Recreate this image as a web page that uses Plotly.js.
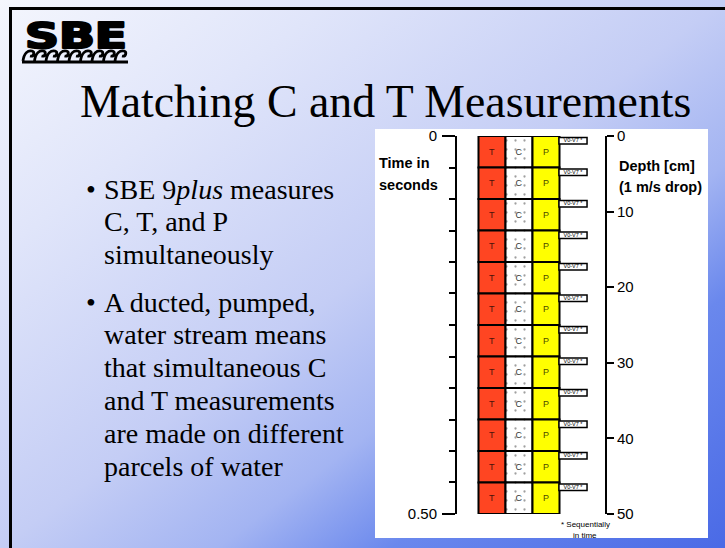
<!DOCTYPE html>
<html><head><meta charset="utf-8">
<script src="https://cdn.plot.ly/plotly-3.0.1.min.js"></script>
<style>
html,body{margin:0;padding:0;}
body{width:725px;height:548px;overflow:hidden;background:linear-gradient(to bottom right,#f4f6fd 0%,#e0e5fa 23%,#c4cdf5 50%,#a3b4f2 65%,#6a88ed 77%,#4a6ae6 100%);}
#chart{width:725px;height:548px;}
</style></head><body><div id="chart"></div>
<script>
// ---- data ----
const columns = ['T', 'C', 'P'];
const voltageCategory = 'V0-V7';
const voltageLabel = 'V0-V7 *';
const sampleStarts = [0, 0.0417, 0.0833, 0.125, 0.1667, 0.2083, 0.25, 0.2917, 0.3333, 0.375, 0.4167, 0.4583];
const sampleDurations = [0.0417, 0.0417, 0.0417, 0.0417, 0.0417, 0.0417, 0.0417, 0.0417, 0.0417, 0.0417, 0.0417, 0.0417];
const timeTickVals = [0, 0.25, 0.5];
const timeTickText = ['0', '', '0.50'];
const timeMinorTicks = [0, 0.0417, 0.0833, 0.125, 0.1667, 0.2083, 0.25, 0.2917, 0.3333, 0.375, 0.4167, 0.4583, 0.5];
const depthTickVals = [0, 10, 20, 30, 40, 50];
const slideTitle = 'Matching C and T Measurements';
const bullets = [
  ['SBE 9<i>plus</i> measures', 'C, T, and P', 'simultaneously'],
  ['A ducted, pumped,', 'water stream means', 'that simultaneous C', 'and T measurements', 'are made on different', 'parcels of water']
];

// ---- styles ----
const colFill = {T: '#ff4522', C: '#ffffff', P: '#ffff00'};
const colText = {T: '#4a120a', C: '#333333', P: '#4a4a00'};
const SANS = 'Liberation Sans, Arial, Helvetica, sans-serif';
const SERIF = 'Liberation Serif, Times New Roman, serif';

const L = 457, R = 605, TOP = 136, BOT = 514;
const px = x => (x - L) / (R - L);
const py = y => (BOT - y) / (BOT - TOP);

const traces = [];
columns.forEach(c => {
  const tr = {
    type: 'bar', x: sampleStarts.map(() => c), y: sampleDurations, base: sampleStarts,
    width: 1, hoverinfo: 'skip', showlegend: false,
    marker: {color: colFill[c], line: {color: '#000', width: 2}},
    text: sampleStarts.map(() => c), textposition: 'inside', insidetextanchor: 'middle',
    textangle: 0, constraintext: 'none',
    textfont: {family: SANS, size: 9, color: colText[c]}
  };
  if (c === 'C') {
    tr.marker.pattern = {shape: '.', fgcolor: '#a0a0a0', bgcolor: '#ffffff', size: 9, solidity: 0.05, fillmode: 'replace'};
  }
  traces.push(tr);
});
// V0-V7 boxes
traces.push({
  type: 'bar', x: sampleStarts.map(() => voltageCategory), y: sampleDurations.map(() => 0.0085),
  base: sampleStarts.map(s => s + 0.002), width: 1.04, hoverinfo: 'skip', showlegend: false,
  marker: {color: '#ffffff', line: {color: '#000', width: 1.5}}
});
traces.push({
  type: 'scatter', mode: 'text', x: sampleStarts.map(() => voltageCategory),
  y: sampleStarts.map(s => s + 0.0062), text: sampleStarts.map(() => voltageLabel),
  textfont: {family: SANS, size: 5.5, color: '#000'}, hoverinfo: 'skip', showlegend: false, cliponaxis: false
});
// helper so the depth axis is drawn
traces.push({type: 'scatter', mode: 'markers', x: ['T', 'T'], y: [depthTickVals[0], depthTickVals[depthTickVals.length - 1]],
  yaxis: 'y2', marker: {opacity: 0}, hoverinfo: 'skip', showlegend: false});

const ann = [];
const A = (text, x, y, size, family, xanchor, extra) => ann.push(Object.assign({
  text, x: px(x), y: py(y), xref: 'paper', yref: 'paper', showarrow: false,
  xanchor: xanchor || 'left', yanchor: 'middle', font: {family, size, color: '#000'}
}, extra || {}));

A(slideTitle, 385, 102, 45.8, SERIF, 'center');
const bulletStartY = [189, 302];
bullets.forEach((lines, bi) => {
  A('•', 91, bulletStartY[bi], 28, SERIF, 'center');
  lines.forEach((t, li) => A(t, 102, bulletStartY[bi] + li * 32.8, 28, SERIF, 'left'));
});
A('<b>Time in</b>', 377, 163, 14.5, SANS, 'left');
A('<b>seconds</b>', 377, 185, 14.5, SANS, 'left');
A('<b>Depth [cm]</b>', 617, 166, 14.5, SANS, 'left');
A('<b>(1 m/s drop)</b>', 617, 187, 14.5, SANS, 'left');
A('* Sequentially', 585, 524, 8, SANS, 'center');
A('in time', 585, 535, 8, SANS, 'center');
A('SBE', 76, 36, 36, 'DejaVu Sans, sans-serif', 'center', {font: {family: 'DejaVu Sans, sans-serif', size: 36, color: '#000', weight: 'bold'}});

// logo waves
let d = '';
for (let i = 0; i < 9; i++) {
  const x0 = 23 + i * 11.5;
  d += `M${px(x0)},${py(61)} C${px(x0 + 1)},${py(53)} ${px(x0 + 5)},${py(50)} ${px(x0 + 9)},${py(51)} C${px(x0 + 12)},${py(52)} ${px(x0 + 11)},${py(57)} ${px(x0 + 7)},${py(56)} `;
}
d += `M${px(22)},${py(62)} L${px(128)},${py(62)}`;

const shapes = [
  {type: 'rect', xref: 'paper', yref: 'paper', x0: px(375), x1: px(708), y0: py(538), y1: py(129), fillcolor: '#ffffff', line: {width: 0}, layer: 'below'},
  {type: 'line', xref: 'paper', yref: 'paper', x0: px(9), x1: px(726), y0: py(8.5), y1: py(8.5), line: {color: '#000', width: 3}},
  {type: 'line', xref: 'paper', yref: 'paper', x0: px(10.5), x1: px(10.5), y0: py(7), y1: py(549), line: {color: '#000', width: 3}},
  {type: 'path', xref: 'paper', yref: 'paper', path: d, line: {color: '#000', width: 2.8}, fillcolor: 'rgba(0,0,0,0)'}
];

const axisFont = {family: SANS, size: 15, color: '#000'};
const layout = {
  width: 725, height: 548,
  margin: {l: L, r: 725 - R, t: TOP, b: 548 - BOT, pad: 0},
  paper_bgcolor: 'rgba(0,0,0,0)', plot_bgcolor: 'rgba(0,0,0,0)',
  barmode: 'overlay', showlegend: false,
  xaxis: {type: 'category', categoryorder: 'array', categoryarray: ['T', 'C', 'P', voltageCategory],
    range: [-1.296, 4.185], visible: false, fixedrange: true},
  yaxis: {range: [0.5, 0], tickmode: 'array', tickvals: timeTickVals, ticktext: timeTickText,
    ticks: 'outside', ticklen: 13, tickwidth: 2, tickcolor: '#000', showline: true, linewidth: 2, linecolor: '#000',
    showgrid: false, zeroline: false, tickfont: axisFont, ticklabelstandoff: 2, fixedrange: true,
    minor: {tickmode: 'array', tickvals: timeMinorTicks, ticks: 'outside', ticklen: 6, tickwidth: 2, tickcolor: '#000', showgrid: false}},
  yaxis2: {overlaying: 'y', side: 'right', anchor: 'x', range: [50, 0], tickmode: 'array', tickvals: depthTickVals,
    ticks: 'outside', ticklen: 7, tickwidth: 2, tickcolor: '#000', showline: true, linewidth: 2, linecolor: '#000',
    showgrid: false, zeroline: false, tickfont: axisFont, ticklabelstandoff: 0, fixedrange: true},
  annotations: ann, shapes: shapes
};

Plotly.newPlot('chart', traces, layout, {staticPlot: true, displayModeBar: false}).then(() => {
  document.querySelectorAll('#chart text.annotation-text').forEach(t => {
    if (t.textContent === 'SBE') {
      t.setAttribute('textLength', '102');
      t.setAttribute('lengthAdjust', 'spacingAndGlyphs');
      t.style.stroke = '#000';
      t.style.strokeWidth = '2.2px';
      t.style.strokeLinejoin = 'round';
    }
  });
});
</script></body></html>
